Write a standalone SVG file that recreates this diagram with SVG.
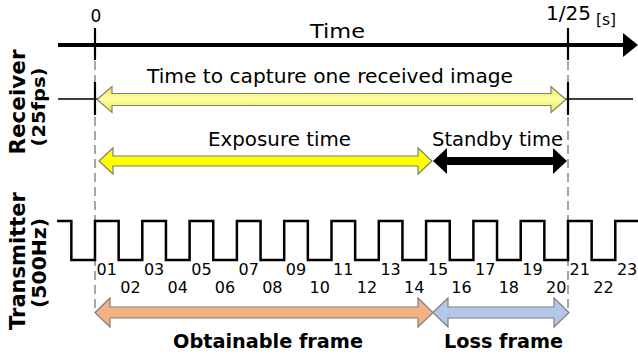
<svg xmlns="http://www.w3.org/2000/svg" width="638" height="358" viewBox="0 0 638 358">
<defs>
<linearGradient id="yg" x1="0" y1="0" x2="0" y2="1">
<stop offset="0" stop-color="#e8e838"/>
<stop offset="0.5" stop-color="#ffffa8"/>
<stop offset="1" stop-color="#e8e838"/>
</linearGradient>
<style>
.t{font-family:"DejaVu Sans",Verdana,sans-serif;fill:#000}
.b{font-family:"DejaVu Sans",Verdana,sans-serif;font-weight:bold;fill:#000}
.n{font-family:"DejaVu Sans",Verdana,sans-serif;font-size:16px;fill:#000;text-anchor:middle}
.dash{stroke:#a6a6a6;stroke-width:2;stroke-dasharray:9,5;fill:none}
.tick{stroke:#000;stroke-width:2.2;fill:none}
.arr{stroke:#7f7f7f;stroke-width:1.2;stroke-linejoin:miter}
</style>
</defs>
<rect width="638" height="358" fill="#fff"/>

<g id="guides">
<line class="dash" x1="95" y1="61" x2="95" y2="312"/>
<line class="dash" x1="568" y1="61" x2="568" y2="312"/>
</g>

<g id="time-axis">
<line x1="58" y1="45" x2="625" y2="45" stroke="#000" stroke-width="4"/>
<polygon points="623,33 638,45 623,57" fill="#000"/>
<line class="tick" x1="95" y1="28" x2="95" y2="60"/>
<line class="tick" x1="568" y1="28" x2="568" y2="60"/>
<text class="t" x="96" y="22" font-size="17" text-anchor="middle">0</text>
<text class="t" x="546" y="20" font-size="19" textLength="45" lengthAdjust="spacingAndGlyphs">1/25</text>
<text class="t" x="596" y="25" font-size="16" textLength="20" lengthAdjust="spacingAndGlyphs">[s]</text>
<text class="t" x="310" y="38" font-size="20" textLength="55" lengthAdjust="spacingAndGlyphs">Time</text>
</g>

<g id="receiver-line">
<line x1="58" y1="99" x2="633" y2="99" stroke="#000" stroke-width="1.6"/>
<line class="tick" x1="95" y1="82" x2="95" y2="115"/>
<line class="tick" x1="568" y1="82" x2="568" y2="115"/>
</g>

<g id="receiver-label">
<text class="b" transform="translate(25,102) rotate(-90)" font-size="22" text-anchor="middle" textLength="105" lengthAdjust="spacingAndGlyphs">Receiver</text>
<text class="b" transform="translate(45,107) rotate(-90)" font-size="18" text-anchor="middle" textLength="79" lengthAdjust="spacingAndGlyphs">(25fps)</text>
</g>

<g id="transmitter-label">
<text class="b" transform="translate(25,261) rotate(-90)" font-size="22" text-anchor="middle" textLength="138" lengthAdjust="spacingAndGlyphs">Transmitter</text>
<text class="b" transform="translate(46,263) rotate(-90)" font-size="19" text-anchor="middle" textLength="90" lengthAdjust="spacingAndGlyphs">(500Hz)</text>
</g>

<g id="capture-arrow">
<polygon class="arr" fill="url(#yg)" points="97,99.5 112,86.5 112,93.5 551,93.5 551,86.5 566,99.5 551,112.5 551,105.5 112,105.5 112,112.5"/>
<text class="t" x="147" y="83" font-size="19" textLength="366" lengthAdjust="spacingAndGlyphs">Time to capture one received image</text>
</g>

<g id="exposure-arrow">
<polygon class="arr" fill="#ffff00" points="99,161 113,148 113,156 418,156 418,148 432,161 418,174 418,166 113,166 113,174"/>
<text class="t" x="208" y="146" font-size="19" textLength="143" lengthAdjust="spacingAndGlyphs">Exposure time</text>
</g>

<g id="standby-arrow">
<polygon fill="#000" points="433,161 447,148 447,157 553,157 553,148 567,161 553,174 553,165 447,165 447,174"/>
<text class="t" x="432" y="146" font-size="19" textLength="131" lengthAdjust="spacingAndGlyphs">Standby time</text>
</g>

<g id="square-wave">
<path d="M57,221 H71.35 V260 H95 V221 H118.65 V260 H142.3 V221 H165.95 V260 H189.6 V221 H213.25 V260 H236.9 V221 H260.55 V260 H284.2 V221 H307.85 V260 H331.5 V221 H355.15 V260 H378.8 V221 H402.45 V260 H426.1 V221 H449.75 V260 H473.4 V221 H497.05 V260 H520.7 V221 H544.35 V260 H568 V221 H591.65 V260 H615.3 V221 H640" fill="none" stroke="#000" stroke-width="2.5"/>
</g>

<g id="frame-numbers">
<text class="n" x="106.8" y="275">01</text>
<text class="n" x="154.1" y="275">03</text>
<text class="n" x="201.4" y="275">05</text>
<text class="n" x="248.7" y="275">07</text>
<text class="n" x="296" y="275">09</text>
<text class="n" x="343.3" y="275">11</text>
<text class="n" x="390.6" y="275">13</text>
<text class="n" x="437.9" y="275">15</text>
<text class="n" x="485.2" y="275">17</text>
<text class="n" x="532.5" y="275">19</text>
<text class="n" x="579.8" y="275">21</text>
<text class="n" x="627.1" y="275">23</text>
<text class="n" x="130.45" y="293">02</text>
<text class="n" x="177.75" y="293">04</text>
<text class="n" x="225.05" y="293">06</text>
<text class="n" x="272.35" y="293">08</text>
<text class="n" x="319.65" y="293">10</text>
<text class="n" x="366.95" y="293">12</text>
<text class="n" x="414.25" y="293">14</text>
<text class="n" x="461.55" y="293">16</text>
<text class="n" x="508.85" y="293">18</text>
<text class="n" x="556.15" y="293">20</text>
<text class="n" x="603.45" y="293">22</text>
</g>

<g id="obtainable-arrow">
<polygon class="arr" fill="#f4b183" points="95,312.5 110,298 110,307 418,307 418,298 433,312.5 418,327 418,318 110,318 110,327"/>
<text class="b" x="173" y="348" font-size="20" textLength="190" lengthAdjust="spacingAndGlyphs">Obtainable frame</text>
</g>

<g id="loss-arrow">
<polygon class="arr" fill="#b4c7e7" points="433,312.5 448,298 448,307 554,307 554,298 569,312.5 554,327 554,318 448,318 448,327"/>
<text class="b" x="444" y="348" font-size="20" textLength="119" lengthAdjust="spacingAndGlyphs">Loss frame</text>
</g>
</svg>
